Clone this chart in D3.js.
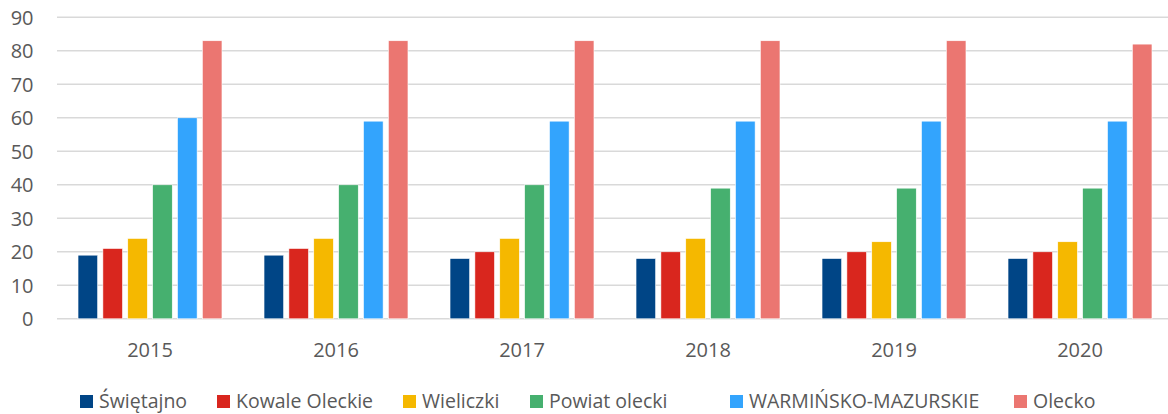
<!DOCTYPE html>
<html><head><meta charset="utf-8">
<script src="https://cdn.jsdelivr.net/npm/d3@7"></script>
<style>body{margin:0;background:#fff}svg{display:block}text{font-family:"Open Sans",sans-serif;fill:#595959}</style>
</head><body><svg id="c" width="1168" height="414"></svg>
<script>
const categories = ["2015","2016","2017","2018","2019","2020"];
const seriesNames = ["Świętajno","Kowale Oleckie","Wieliczki","Powiat olecki","WARMIŃSKO-MAZURSKIE","Olecko"];
const swietajno = [19,19,18,18,18,18];
const kowale = [21,21,20,20,20,20];
const wieliczki = [24,24,24,24,23,23];
const powiat = [40,40,40,39,39,39];
const warminsko = [60,59,59,59,59,59];
const olecko = [83,83,83,83,83,82];
const colors = ["#004586","#d9261e","#f5b800","#46b06f","#33a4fd","#eb7671"];
const yTicks = [0,10,20,30,40,50,60,70,80,90];

const seriesValues = [swietajno,kowale,wieliczki,powiat,warminsko,olecko];
const svg = d3.select("#c");
const pLeft = 57, pRight = 1173, pTop = 17.3, pBottom = 318.8;
const x0 = d3.scaleBand().domain(categories).range([pLeft,pRight]).paddingInner(0.226).paddingOuter(0.113);
const x1 = d3.scaleBand().domain(seriesNames).range([0,x0.bandwidth()]).paddingInner(0.21);
const y = d3.scaleLinear().domain([0,90]).range([pBottom,pTop]);

// gridlines
svg.append("g").selectAll("line").data(yTicks).join("line")
  .attr("x1",pLeft).attr("x2",1168).attr("y1",d=>y(d)).attr("y2",d=>y(d))
  .attr("stroke","#d9d9d9").attr("stroke-width",1.5);

// y axis labels
const yAxis = d3.axisLeft(y).tickValues(yTicks).tickSize(0).tickPadding(0);
const yg = svg.append("g").attr("transform",`translate(33.5,0)`).call(yAxis);
yg.select(".domain").remove();
yg.selectAll("text").style("font-size","20px").attr("fill","#595959").attr("font-family",null).attr("dy","0.35em");

// bars
const groups = svg.append("g").selectAll("g").data(categories).join("g")
  .attr("transform",d=>`translate(${x0(d)},0)`);
groups.selectAll("rect").data((c,i)=>seriesNames.map((s,j)=>({s,j,v:seriesValues[j][i]}))).join("rect")
  .attr("x",d=>x1(d.s)).attr("width",x1.bandwidth())
  .attr("y",d=>y(d.v)).attr("height",d=>y(0)-y(d.v))
  .attr("fill",d=>colors[d.j]).attr("stroke","#fff").attr("stroke-width",0.6);

// x axis
const xAxis = d3.axisBottom(x0).tickSize(0).tickPadding(0);
const xg = svg.append("g").attr("transform",`translate(0,${pBottom})`).call(xAxis);
xg.select(".domain").remove();
xg.selectAll("text").style("font-size","20px").attr("fill","#595959").attr("font-family",null).attr("y",38).attr("dy",0);

// legend
const legX = [80,217,403,530,730,1014];
const leg = svg.append("g").selectAll("g").data(seriesNames).join("g")
  .attr("transform",(d,i)=>`translate(${legX[i]},395)`);
leg.append("rect").attr("width",13).attr("height",13).attr("fill",(d,i)=>colors[i]);
leg.append("text").attr("x",19).attr("y",13).style("font-size","19.5px").text(d=>d);
</script></body></html>
